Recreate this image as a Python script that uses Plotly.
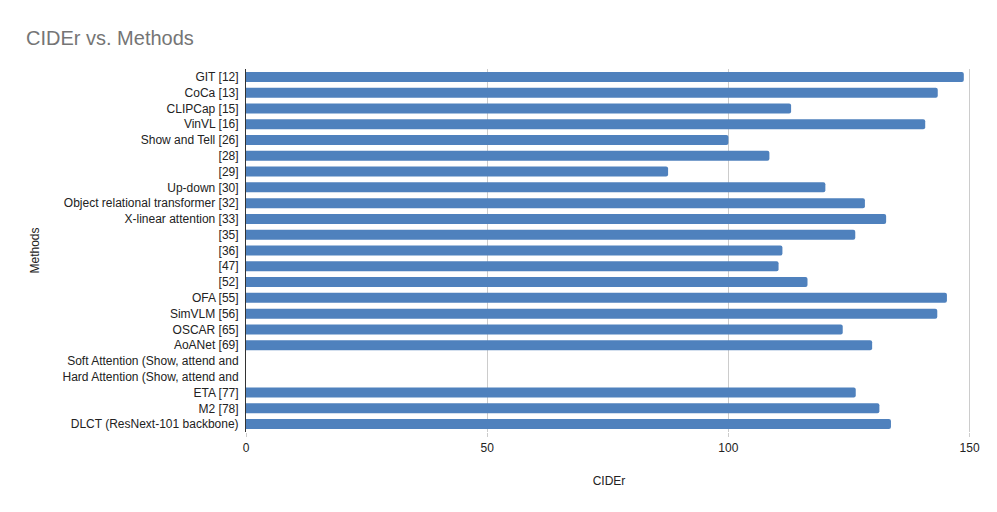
import plotly.graph_objects as go

methods = [
    "GIT [12]", "CoCa [13]", "CLIPCap [15]", "VinVL [16]", "Show and Tell [26]",
    "[28]", "[29]", "Up-down [30]", "Object relational transformer [32]",
    "X-linear attention [33]", "[35]", "[36]", "[47]", "[52]", "OFA [55]",
    "SimVLM [56]", "OSCAR [65]", "AoANet [69]",
    "Soft Attention (Show, attend and", "Hard Attention (Show, attend and",
    "ETA [77]", "M2 [78]", "DLCT (ResNext-101 backbone)",
]
cider = [
    148.8, 143.4, 113.0, 140.8, 100.0,
    108.5, 87.5, 120.1, 128.3,
    132.7, 126.3, 111.2, 110.4, 116.4, 145.3,
    143.3, 123.7, 129.8,
    None, None,
    126.4, 131.3, 133.7,
]
x_ticks = [0, 50, 100, 150]

fig = go.Figure()
fig.add_trace(go.Bar(
    y=methods, x=cider, orientation="h",
    marker=dict(color="#4f81bd", line=dict(width=0), cornerradius=2),
    name="CIDEr",
))

font_family = "Liberation Sans, Arial, sans-serif"
fig.update_layout(
    width=989, height=504,
    margin=dict(l=238, r=25, t=61, b=80),
    paper_bgcolor="white", plot_bgcolor="white",
    bargap=0.366,
    showlegend=False,
    font=dict(family=font_family, size=12, color="#222222"),
    title=dict(text="CIDEr vs. Methods", x=0.0182, xanchor="left", y=0.940, yanchor="middle",
               font=dict(family=font_family, size=20, color="#757575")),
    xaxis=dict(
        range=[0, 150.5], tickvals=x_ticks,
        showgrid=True, gridcolor="#cccccc", gridwidth=1,
        zeroline=False, showline=False,
        ticks="outside", ticklen=4, tickcolor="#cccccc", ticklabelstandoff=1,
        tickfont=dict(size=12, color="#222222"),
        title=dict(text="CIDEr", font=dict(size=12, color="#222222"), standoff=22),
    ),
    yaxis=dict(
        categoryorder="array", categoryarray=methods, autorange="reversed",
        showgrid=False, zeroline=False,
        showline=True, linecolor="#333333", linewidth=1,
        ticks="", ticklabelstandoff=4,
        tickfont=dict(size=12, color="#222222"),
        title=dict(text="Methods", font=dict(size=12, color="#222222"), standoff=20),
    ),
)

fig.write_html("out.html")
